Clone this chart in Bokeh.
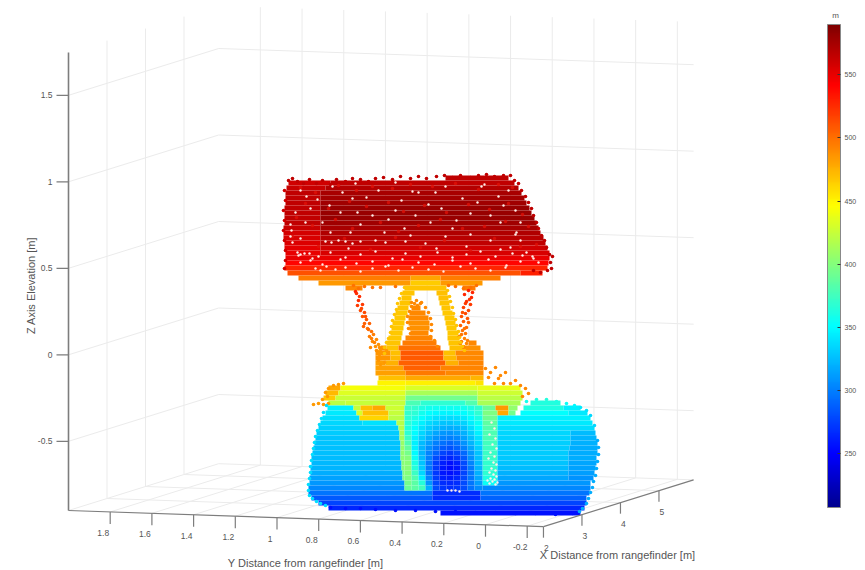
from bokeh.plotting import figure
from bokeh.models import ColumnDataSource, LinearColorMapper, ColorBar, FixedTicker
from bokeh.core.properties import value
from bokeh.embed import file_html
from bokeh.resources import INLINE
import math

x_ticks = [2, 3, 4, 5]
y_ticks = [1.8, 1.6, 1.4, 1.2, 1, 0.8, 0.6, 0.4, 0.2, 0, -0.2]
z_ticks = [1.5, 1, 0.5, 0, -0.5]
cbar_ticks = [250, 300, 350, 400, 450, 500, 550]
jet_anchor = ["#00008f", "#0000ff", "#00ffff", "#ffff00", "#ff0000", "#800000"]
jet_stops = [0, 0.11, 0.375, 0.625, 0.875, 1]

# scan rows of the cloud as seen on the picture: row -> (from, to, range value)
roof_rows = {
175: [(445, 508, 565)],
180: [(288, 330, 560), (330, 514, 566)],
185: [(286, 325, 562), (325, 518, 570)],
190: [(285, 320, 565), (320, 521, 574)],
195: [(285, 320, 566), (320, 524, 576)],
200: [(285, 320, 566), (320, 526, 578)],
205: [(284, 320, 566), (320, 529, 580)],
210: [(284, 320, 566), (320, 531, 580)],
215: [(284, 320, 566), (320, 534, 580)],
220: [(284, 320, 565), (320, 536, 578)],
225: [(283, 320, 562), (320, 538, 575)],
230: [(283, 320, 558), (320, 540, 572)],
235: [(283, 320, 556), (320, 543, 568)],
240: [(284, 320, 555), (320, 545, 565)],
245: [(284, 320, 552), (320, 547, 560)],
250: [(285, 320, 550), (320, 549, 556)],
255: [(285, 549, 550)],
260: [(285, 548, 540)],
265: [(284, 547, 528)],
270: [(287, 520, 512), (520, 542, 530)],
275: [(298, 410, 495), (410, 440, 480), (440, 500, 495)],
280: [(318, 410, 484), (410, 440, 465), (440, 482, 484)],
}
frame_rows = {
285: [(345, 362, 490), (404, 446, 468), (462, 475, 495)],
290: [(402, 414, 468), (436, 447, 470)],
295: [(401, 411, 468), (438, 448, 470)],
300: [(399, 410, 468), (439, 449, 468)],
305: [(397, 408, 468), (411, 420, 490), (441, 450, 468)],
310: [(395, 407, 466), (409, 425, 490), (442, 452, 466)],
315: [(394, 405, 466), (408, 428, 490), (444, 454, 466)],
320: [(392, 404, 466), (408, 429, 488), (445, 455, 466)],
325: [(391, 403, 466), (409, 429, 488), (446, 456, 466)],
330: [(390, 402, 466), (410, 428, 490), (447, 458, 466)],
335: [(388, 401, 466), (405, 432, 492), (447, 459, 468)],
340: [(386, 400, 468), (402, 436, 495), (448, 461, 468), (468, 476, 490)],
345: [(380, 386, 488), (386, 398, 468), (398, 440, 500), (449, 463, 470), (463, 480, 488)],
350: [(375, 390, 486), (390, 400, 470), (400, 443, 508), (443, 455, 470), (455, 483, 490)],
355: [(375, 390, 486), (390, 400, 472), (400, 443, 508), (443, 456, 472), (456, 483, 491)],
360: [(375, 385, 482), (385, 398, 476), (398, 445, 505), (445, 458, 476), (458, 483, 492)],
365: [(375, 403, 482), (403, 440, 505), (440, 483, 492)],
370: [(375, 405, 482), (405, 445, 496), (445, 483, 490)],
375: [(378, 405, 470), (405, 470, 478), (470, 483, 474)],
380: [(377, 405, 450), (405, 475, 452), (475, 483, 456)],
385: [(328, 340, 478), (340, 405, 442), (405, 477, 432), (477, 520, 438)],
390: [(325, 338, 472), (338, 405, 434), (405, 477, 414), (477, 522, 428)],
395: [(323, 335, 466), (335, 405, 426), (405, 477, 394), (477, 522, 420)],
400: [(328, 345, 420), (345, 405, 424), (405, 420, 378), (420, 465, 368), (465, 477, 382), (477, 520, 414), (530, 560, 364)],
}
body_rows = {
405: [(327, 353, 345), (353, 360, 425), (360, 372, 470), (372, 385, 478), (385, 404, 428), (482, 495, 390), (495, 508, 484), (508, 517, 405), (523, 563, 362), (563, 580, 345)],
410: [(325, 356, 342), (356, 362, 430), (362, 388, 470), (388, 404, 425), (482, 497, 398), (497, 508, 478), (508, 515, 395), (520, 568, 352), (568, 587, 342)],
415: [(322, 359, 338), (359, 388, 462), (388, 404, 420), (482, 497, 392), (497, 590, 345)],
420: [(320, 362, 335), (362, 396, 340), (396, 404, 418), (482, 497, 386), (497, 592, 342)],
425: [(318, 398, 332), (398, 404, 418), (482, 497, 382), (497, 594, 338)],
430: [(316, 399, 330), (399, 404, 415), (482, 497, 380), (497, 570, 335), (570, 595, 325)],
435: [(315, 399, 328), (399, 404, 412), (482, 497, 378), (497, 570, 333), (570, 596, 322)],
440: [(314, 400, 327), (400, 404, 408), (482, 497, 375), (497, 570, 332), (570, 597, 320)],
445: [(313, 400, 326), (400, 404, 406), (482, 497, 374), (497, 569, 331), (569, 597, 319)],
450: [(312, 400, 326), (400, 404, 405), (482, 497, 372), (497, 568, 330), (568, 597, 318)],
455: [(311, 400, 325), (400, 404, 404), (482, 497, 372), (497, 568, 329), (568, 596, 318)],
460: [(311, 401, 323), (401, 404, 402), (482, 497, 370), (497, 568, 328), (568, 596, 316)],
465: [(310, 401, 321), (401, 404, 400), (482, 497, 370), (497, 568, 324), (568, 595, 314)],
470: [(310, 402, 318), (402, 404, 398), (482, 497, 368), (497, 568, 320), (568, 594, 312)],
475: [(309, 402, 314), (402, 404, 396), (482, 497, 362), (497, 568, 316), (568, 593, 308)],
480: [(309, 404, 310), (482, 497, 355), (497, 590, 310)],
485: [(308, 404, 304), (482, 590, 304)],
490: [(308, 432, 296), (432, 480, 268), (480, 589, 296)],
495: [(311, 432, 286), (432, 480, 266), (480, 586, 288)],
500: [(318, 586, 276)],
505: [(328, 584, 264)],
510: [(440, 580, 256)],
}
# central column between the two bright strips
column_edges = [404, 411, 418, 425, 432, 439, 446, 453, 460, 467, 474, 482]
column_rows = {
405: [372, 370, 362, 358, 356, 356, 356, 356, 358, 362, 370],
410: [370, 366, 358, 352, 348, 347, 347, 348, 350, 358, 368],
415: [368, 360, 352, 345, 340, 338, 337, 338, 342, 350, 360],
420: [366, 356, 345, 337, 332, 328, 328, 330, 334, 344, 354],
425: [364, 352, 340, 330, 325, 320, 318, 320, 326, 338, 350],
430: [366, 350, 335, 324, 316, 310, 308, 312, 320, 332, 345],
435: [372, 345, 330, 318, 308, 302, 300, 304, 314, 326, 340],
440: [380, 345, 325, 312, 300, 294, 290, 296, 308, 322, 336],
445: [388, 345, 322, 306, 294, 285, 282, 288, 300, 316, 332],
450: [395, 350, 322, 302, 288, 276, 272, 278, 292, 310, 328],
455: [400, 355, 325, 300, 280, 268, 264, 270, 286, 306, 326],
460: [402, 360, 328, 298, 274, 262, 256, 262, 280, 302, 324],
465: [402, 365, 330, 296, 272, 258, 254, 258, 276, 298, 322],
470: [400, 372, 335, 298, 272, 258, 256, 260, 276, 296, 320],
475: [398, 380, 345, 302, 274, 262, 260, 264, 278, 296, 315],
480: [395, 385, 365, 310, 278, 268, 266, 268, 280, 296, 312],
485: [390, 385, 375, 320, 280, 270, 268, 270, 280, 295, 305],
}

roof_edge_x = [288, 292, 297, 303, 309, 316, 322, 330, 336, 345, 352, 360, 368, 375, 383, 392, 400, 410, 418, 426, 436, 444, 452, 460, 470, 478, 486, 494, 503, 510, 514, 518, 521, 525, 528, 531, 533, 536, 538, 541, 544, 546, 549, 552, 550, 551, 547, 540, 533, 284, 285, 283, 284, 283, 284, 285, 285, 284]
roof_edge_y = [180, 178, 181, 183, 179, 183, 180, 184, 179, 181, 178, 179, 181, 178, 177, 179, 176, 178, 176, 178, 176, 175, 177, 175, 177, 175, 174, 176, 175, 175, 180, 183, 190, 196, 202, 208, 215, 222, 228, 235, 240, 247, 254, 256, 262, 268, 270, 272, 270, 190, 200, 210, 220, 230, 240, 250, 260, 268]
roof_edge_v = [566] * 49 + [560] * 9

strut_x = [353, 358, 364, 372, 380, 395, 448, 455, 463, 470, 476, 355, 359, 358, 357, 362, 360, 364, 362, 366, 364, 369, 367, 371, 373, 369, 376, 372, 378, 375, 380, 377, 383, 379, 385, 381, 468, 464, 471, 466, 470, 463, 468, 465, 461, 467, 463, 460, 466, 462, 465, 459, 464, 461, 466, 463,
           356, 361, 365, 363, 368, 371, 374, 370, 376, 379, 382, 378, 384, 386, 380, 472, 469, 465, 462, 468, 464, 461, 467, 463, 460]
strut_y = [285, 288, 286, 287, 287, 286, 285, 286, 288, 287, 285, 291, 296, 300, 305, 304, 310, 312, 316, 319, 323, 323, 328, 331, 334, 336, 339, 341, 344, 346, 349, 351, 353, 354, 358, 358, 290, 294, 297, 301, 304, 307, 310, 313, 316, 318, 321, 325, 327, 330, 333, 336, 338, 341, 343, 346,
           293, 308, 316, 326, 329, 338, 342, 347, 350, 347, 357, 360, 362, 350, 364, 292, 299, 303, 312, 322, 328, 334, 340, 347, 343]
strut_v = [500] * 11 + [530, 525, 525, 520, 520, 515, 515, 510, 510, 505, 505, 500, 500, 495, 495, 490, 490, 488, 488, 486, 486, 486, 486, 486, 486, 530, 528, 526, 524, 520, 518, 516, 514, 512, 510, 508, 505, 503, 500, 498, 496, 494, 494, 492, 492,
           525, 515, 512, 505, 502, 495, 492, 490, 488, 488, 486, 486, 484, 484, 484, 528, 524, 520, 512, 505, 500, 498, 494, 492, 492]

arch_x = [404, 401, 399, 397, 396, 394, 392, 391, 390, 388, 386, 384, 384, 447, 449, 450, 452, 453, 455, 456, 458, 459, 460, 462, 464, 420, 414, 411, 409, 407, 407, 408, 410, 425, 428, 430, 431, 431, 430, 434, 437, 411, 416, 421, 417, 408]
arch_y = [287, 293, 298, 303, 309, 314, 320, 326, 332, 338, 342, 347, 353, 290, 296, 301, 307, 313, 319, 325, 331, 337, 342, 346, 350, 303, 303, 306, 311, 316, 322, 328, 333, 307, 312, 318, 324, 330, 336, 340, 346, 302, 300, 302, 305, 337]
arch_v = [468] * 25 + [490] * 21

tip_x = [313, 318, 323, 328, 322, 325, 328, 333, 338, 343, 327, 485, 490, 495, 500, 505, 498, 510, 515, 520, 525, 528, 522, 488, 494, 503]
tip_y = [404, 403, 404, 403, 399, 392, 388, 385, 384, 383, 396, 368, 372, 367, 375, 372, 378, 383, 380, 385, 388, 393, 396, 377, 383, 383]
tip_v = [484] * 11 + [490] * 15

body_edge_x = [326, 323, 321, 319, 317, 315, 314, 313, 312, 311, 310, 310, 309, 308, 308, 309, 312, 316, 320, 325, 597, 598, 598, 597, 596, 595, 593, 592, 590, 588, 586, 582, 579, 594, 590, 586, 580, 574, 566, 556, 546, 536, 526, 330, 345, 360, 375, 395, 415, 435, 455, 475, 495, 515, 535, 555, 572]
body_edge_y = [405, 412, 418, 424, 430, 436, 442, 448, 454, 460, 466, 472, 478, 484, 490, 495, 498, 501, 503, 505, 440, 447, 454, 461, 468, 475, 481, 487, 492, 498, 503, 508, 511, 425, 415, 410, 407, 405, 403, 401, 399, 399, 401, 507, 508, 508, 509, 510, 510, 511, 511, 512, 512, 513, 513, 514, 513]
body_edge_v = [338] * 20 + [318] * 13 + [335, 335, 340, 342, 348, 355, 362, 364, 362, 358] + [256] * 14

light_x = [300, 315, 338, 356, 372, 392, 410, 432, 455, 478, 498, 512, 305, 328, 349, 366, 388, 403, 424, 446, 468, 489, 508, 522, 296, 312, 335, 352, 380, 398, 418, 440, 462, 484, 505, 528, 292, 318, 344, 370, 395, 420, 444, 470, 494, 520, 536]
light_y = [187, 192, 185, 190, 186, 188, 184, 186, 183, 189, 184, 187, 203, 208, 201, 206, 202, 211, 205, 212, 204, 209, 203, 214, 217, 225, 219, 228, 222, 231, 225, 219, 228, 226, 221, 226, 236, 246, 238, 249, 237, 247, 240, 250, 238, 246, 244]

gap_x = [325, 331, 338, 345, 352, 360, 375, 385, 405, 425, 298, 304, 318, 330, 345, 360, 375, 392, 405, 420, 437, 452, 466, 480, 495, 512, 522, 300, 310, 322, 340, 356, 372, 388, 402, 418, 434, 452, 470, 488, 506, 520, 533, 315, 320, 326, 335, 345, 360, 372, 385, 398, 412, 428, 443, 460, 475, 490, 505, 290, 291, 290, 292, 297, 300, 309, 312, 412, 418, 435, 481, 484, 428, 441, 352, 366, 317, 445, 401, 372, 322, 516, 515, 500, 490, 470, 456, 430, 404, 384, 360, 340, 310, 300, 332, 355, 378, 395, 462, 498, 508, 503, 515, 520, 526, 532, 538, 510, 490, 470, 445, 415, 395, 350, 330, 305, 300,
         342, 329, 357, 388, 410, 452, 477, 520, 295, 348, 436, 466, 500, 306,
         491, 494, 489, 495, 492, 496, 490, 494, 488, 493, 496, 491, 495, 489, 493, 496, 490, 494, 487, 492, 497, 489, 495, 447, 451, 455, 459]
gap_y = [241, 242, 240, 241, 243, 241, 240, 242, 241, 243, 255, 253, 256, 252, 257, 254, 251, 258, 253, 256, 252, 257, 254, 251, 256, 253, 255, 262, 260, 264, 259, 263, 261, 265, 259, 262, 264, 260, 263, 259, 265, 261, 258, 268, 270, 266, 269, 267, 271, 268, 266, 270, 267, 269, 271, 266, 268, 270, 267, 224, 230, 236, 242, 252, 254, 253, 258, 191, 192, 192, 186, 184, 204, 208, 198, 197, 199, 186, 200, 215, 222, 232, 234, 222, 215, 213, 220, 222, 228, 232, 224, 212, 208, 190, 186, 183, 190, 182, 198, 196, 190, 205, 210, 240, 252, 256, 262, 247, 240, 234, 236, 215, 210, 232, 232, 222, 238,
         192, 205, 212, 219, 235, 228, 202, 222, 212, 248, 248, 246, 249, 196,
         422, 428, 434, 438, 444, 448, 452, 456, 458, 462, 464, 468, 470, 472, 474, 476, 478, 479, 480, 481, 482, 483, 484, 490, 490, 490, 491]


def project(X, Y, Z):
    return (68 + (2 - Y) * 208.5 + (X - 2) * 38.5,
            510 + (2 - Y) * 7.1 - (X - 2) * 12 - (Z + 0.9) * 173)


def flatten(rows):
    out = {"l": [], "r": [], "t": [], "b": [], "v": []}
    for y, spans in rows.items():
        for x0, x1, v in spans:
            out["l"].append(x0); out["r"].append(x1)
            out["t"].append(y); out["b"].append(y + 5); out["v"].append(v)
    return out


p = figure(width=865, height=570, x_range=(0, 865), y_range=(570, 0),
           output_backend="svg", toolbar_location=None, min_border=0,
           x_axis_type=None, y_axis_type=None, outline_line_color=None,
           background_fill_color="white", border_fill_color="white")
p.grid.visible = False

xmax, ymin, zmax, zmin, ymax, xmin = 5.9, -0.278, 1.747, -0.9, 2, 2
grid = "#ebebeb"
seg = {"x0": [], "y0": [], "x1": [], "y1": []}


def add(a, b, store=seg):
    store["x0"].append(a[0]); store["y0"].append(a[1])
    store["x1"].append(b[0]); store["y1"].append(b[1])


for z in z_ticks:
    add(project(xmin, ymax, z), project(xmax, ymax, z))
    add(project(xmax, ymax, z), project(xmax, ymin, z))
for x in x_ticks[1:]:
    add(project(x, ymax, zmin), project(x, ymax, zmax))
    add(project(x, ymax, zmin), project(x, ymin, zmin))
for y in y_ticks:
    add(project(xmax, y, zmin), project(xmax, y, zmax))
    add(project(xmin, y, zmin), project(xmax, y, zmin))
add(project(xmin, ymax, zmin), project(xmax, ymax, zmin))
add(project(xmax, ymax, zmin), project(xmax, ymin, zmin))
p.segment("x0", "y0", "x1", "y1", source=ColumnDataSource(seg), line_color=grid, line_width=1)

jet = []
for i in range(256):
    t = i / 255
    k = 0
    while k < len(jet_stops) - 2 and t > jet_stops[k + 1]:
        k += 1
    f = (t - jet_stops[k]) / (jet_stops[k + 1] - jet_stops[k])
    a = [int(jet_anchor[k][j:j + 2], 16) for j in (1, 3, 5)]
    b = [int(jet_anchor[k + 1][j:j + 2], 16) for j in (1, 3, 5)]
    jet.append("#%02x%02x%02x" % tuple(round(u + (w - u) * f) for u, w in zip(a, b)))
mapper = LinearColorMapper(palette=jet, low=207, high=590)
fill = {"field": "v", "transform": mapper}

column_spans = {y: [(column_edges[i], column_edges[i + 1], v) for i, v in enumerate(vals)]
                for y, vals in column_rows.items()}
for rows in (roof_rows, frame_rows, body_rows, column_spans):
    p.quad(left="l", right="r", top="t", bottom="b", source=ColumnDataSource(flatten(rows)),
           fill_color=fill, line_color=None)

for xs, ys, vs in ((roof_edge_x, roof_edge_y, roof_edge_v), (strut_x, strut_y, strut_v), (arch_x, arch_y, arch_v),
                   (tip_x, tip_y, tip_v), (body_edge_x, body_edge_y, body_edge_v)):
    p.scatter("x", "y", size=3.6, source=ColumnDataSource(dict(x=xs, y=ys, v=vs)),
              fill_color=fill, line_color=None)
p.scatter(light_x, light_y, size=3.5, fill_color="#e01008", fill_alpha=0.8, line_color=None)
p.scatter(gap_x, gap_y, size=2.4, fill_color="#ffeee8", line_color=None)

# box edges and ticks
axis_col = "#7d7d7d"
ax = {"x0": [], "y0": [], "x1": [], "y1": []}
add(project(xmin, ymax, zmin), project(xmin, ymax, zmax), ax)
p.segment("x0", "y0", "x1", "y1", source=ColumnDataSource(ax), line_color=axis_col, line_width=1.6)
ax = {"x0": [], "y0": [], "x1": [], "y1": []}
add(project(xmin, ymax, zmin), project(xmin, ymin, zmin), ax)
add(project(xmin, ymin, zmin), project(xmax, ymin, zmin), ax)
for z in z_ticks:
    a = project(xmin, ymax, z)
    add(a, (a[0] - 12, a[1]), ax)
for y in y_ticks:
    a = project(xmin, y, zmin)
    add(a, (a[0], a[1] + 12), ax)
for x in x_ticks:
    a = project(x, ymin, zmin)
    add(a, (a[0], a[1] + 11), ax)
p.segment("x0", "y0", "x1", "y1", source=ColumnDataSource(ax), line_color=axis_col, line_width=1.2)

font = value("Liberation Sans")
tc = "#555555"


def labels(xs, ys, texts, align, size="8.5px", angle=0):
    p.text(xs, ys, text=texts, text_font=font, text_font_size=size, text_color=tc,
           text_align=align, text_baseline="middle", angle=angle)


labels([project(xmin, ymax, z)[0] - 16 for z in z_ticks], [project(xmin, ymax, z)[1] for z in z_ticks],
       [str(z) for z in z_ticks], "right")
labels([project(xmin, y, zmin)[0] - 7 for y in y_ticks], [project(xmin, y, zmin)[1] + 21 for y in y_ticks],
       [str(y) for y in y_ticks], "center")
labels([project(x, ymin, zmin)[0] + 3 for x in x_ticks], [project(x, ymin, zmin)[1] + 21 for x in x_ticks],
       [str(x) for x in x_ticks], "center")
labels([305], [562], ["Y Distance from rangefinder [m]"], "center", "11px")
labels([617], [554], ["X Distance from rangefinder [m]"], "center", "11px")
labels([30], [285], ["Z Axis Elevation [m]"], "center", "11px", math.pi / 2)
labels([835], [15], ["m"], "center", "8px")

cb = ColorBar(color_mapper=mapper, ticker=FixedTicker(ticks=cbar_ticks), width=13, height=483,
              location=(827, 63), padding=0, margin=0,
              major_label_text_font_size="7px", major_label_text_color=tc, major_label_text_font="Liberation Sans",
              major_tick_line_color="#333333", major_tick_in=3, major_tick_out=0, minor_tick_line_color=None,
              bar_line_color="#888888", border_line_color=None, background_fill_color=None, label_standoff=4)
p.add_layout(cb)

open("out.html", "w").write(file_html(p, INLINE))
